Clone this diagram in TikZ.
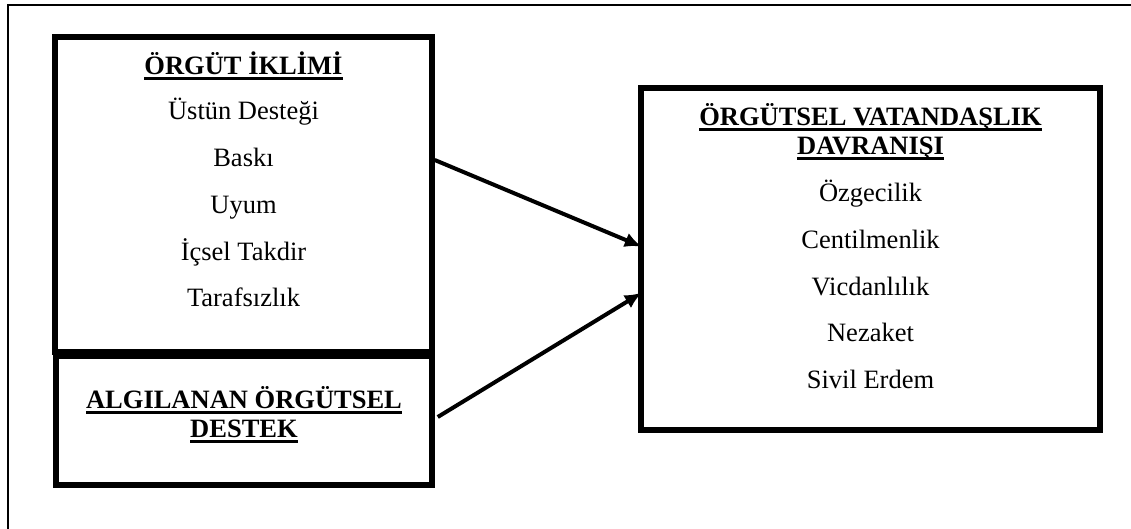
\documentclass[tikz,border=0pt]{standalone}
\usepackage{fontspec}
\setmainfont{Liberation Serif}
\usetikzlibrary{arrows.meta,positioning}
\tikzset{font={\fontsize{26.5pt}{30pt}\selectfont}}
\newsavebox{\basliksatir}
\newcommand{\altcizgi}[1]{\sbox{\basliksatir}{#1}\rlap{\rule[-5.5pt]{\wd\basliksatir}{3pt}}\usebox{\basliksatir}}

\begin{document}
\begin{tikzpicture}[x=1pt,y=-1pt,
kutu/.style={draw,line width=5.5pt,inner sep=0pt},
baslik/.style={anchor=base,inner sep=0pt,font={\fontsize{26.5pt}{30pt}\selectfont\bfseries}},
madde/.style={anchor=base,inner sep=0pt},
ok/.style={line width=4pt,-{Latex[length=17pt,width=15pt]}}
]
\useasboundingbox (0,0) rectangle (1131,529);
\clip (0,0) rectangle (1131,529);
\draw[line width=2pt] (8,5) rectangle (1160,560);

% boxes
\node[kutu,minimum width=377pt,minimum height=315pt] (iklim) at (243.5,194.5) {};
\node[kutu,minimum width=376pt,minimum height=129pt] (destek) at (244,420.5) {};
\node[kutu,minimum width=459pt,minimum height=342pt] (vatandas) at (870.5,259) {};

% left box
\node[baslik] (iklimbaslik) at (243.5,75) {\altcizgi{ÖRGÜT İKLİMİ}};
\foreach \ad [count=\i] in {Üstün Desteği,Baskı,Uyum,İçsel Takdir,Tarafsızlık}
  \node[madde] (iklim\i) at (243.5,120+46.7*\i-46.7) {\ad};

\node[baslik] (destekbaslik1) at (244,408) {\altcizgi{ALGILANAN ÖRGÜTSEL}};
\node[baslik] (destekbaslik2) at (244,437) {\altcizgi{DESTEK}};

% right box
\node[baslik] (ovdbaslik1) at (870.5,126) {\altcizgi{ÖRGÜTSEL VATANDAŞLIK}};
\node[baslik] (ovdbaslik2) at (870.5,155) {\altcizgi{DAVRANIŞI}};
\foreach \ad [count=\i] in {Özgecilik,Centilmenlik,Vicdanlılık,Nezaket,Sivil Erdem}
  \node[madde] (ovd\i) at (870.5,202+46.6*\i-46.6) {\ad};

\draw[ok] ([yshift=34.5pt]iklim.east) -- ([xshift=3.5pt,yshift=12.3pt]vatandas.west);
\draw[ok] ([xshift=3pt,yshift=3.5pt]destek.east) -- ([xshift=3.5pt,yshift=-33.7pt]vatandas.west);
\end{tikzpicture}
\end{document}
